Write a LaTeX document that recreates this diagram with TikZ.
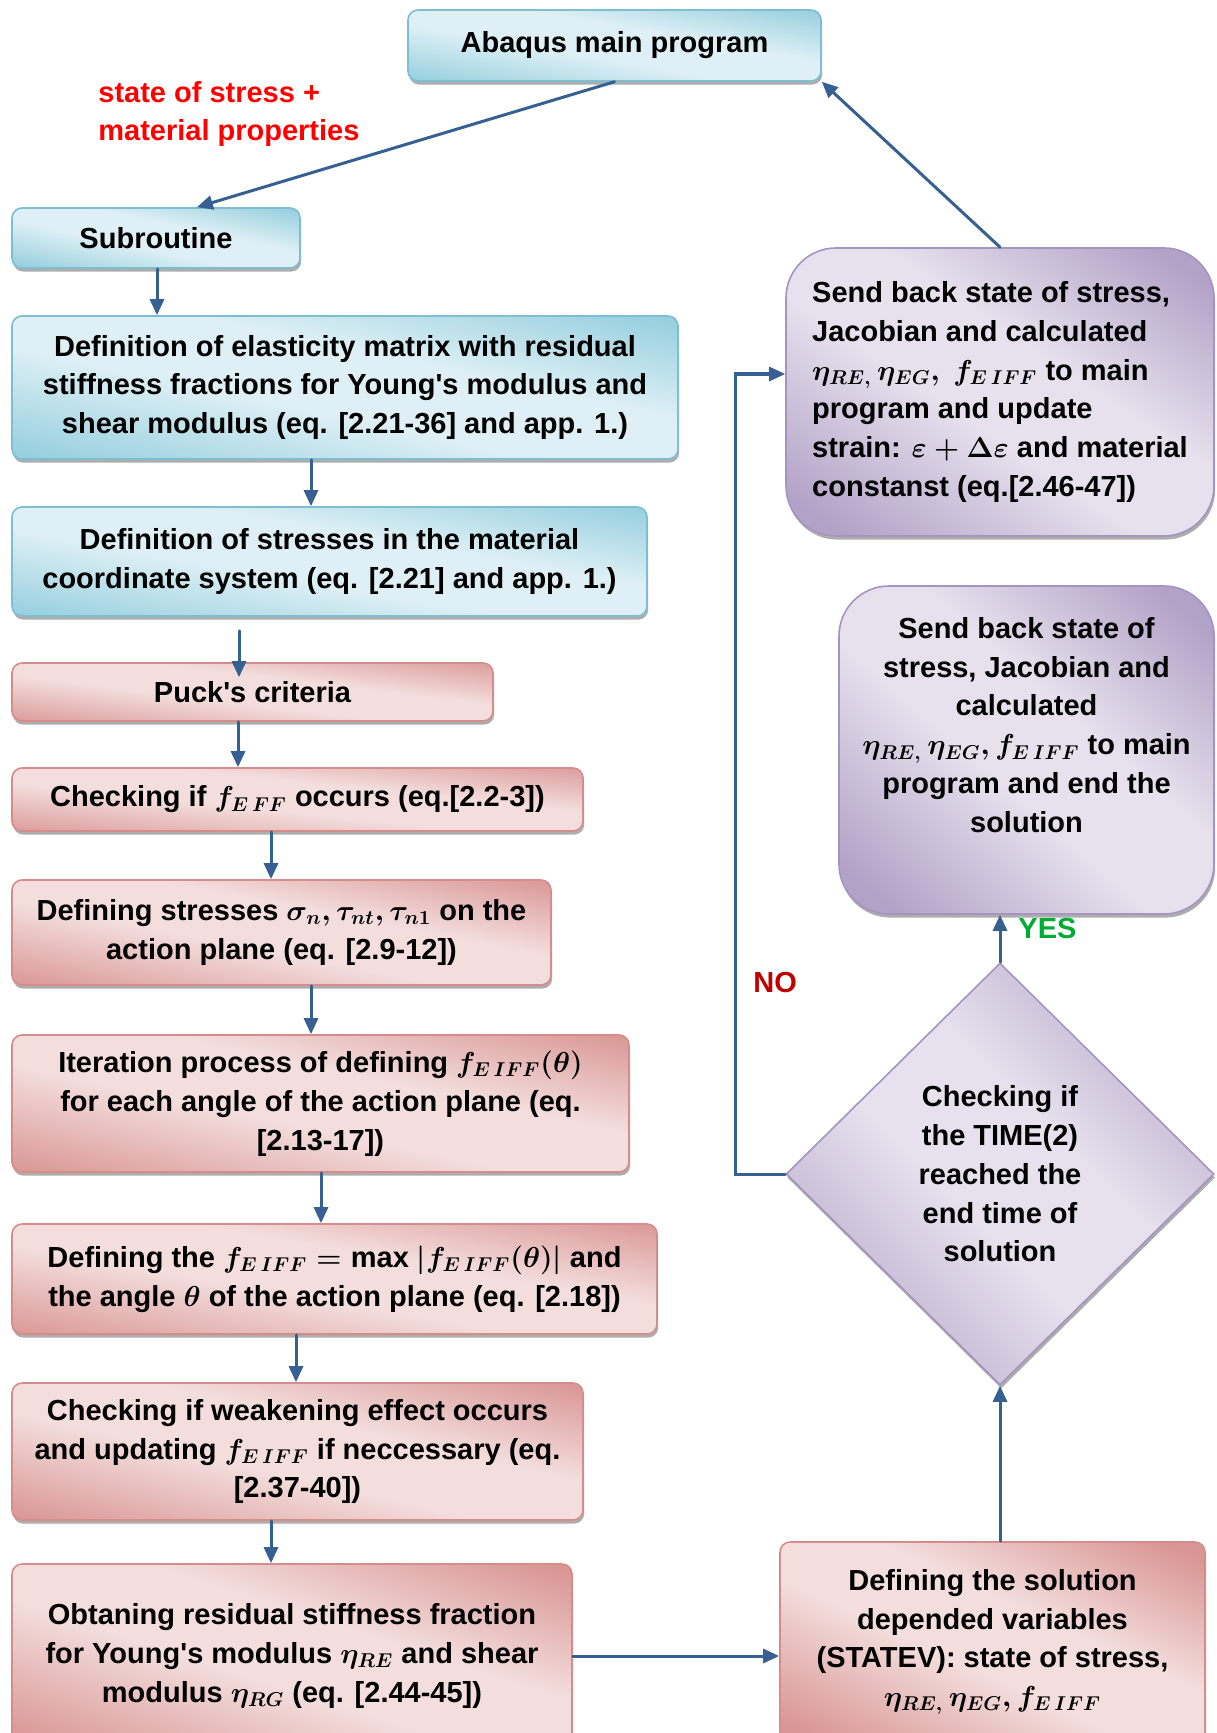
\documentclass[tikz,border=0pt]{standalone}
\usepackage{fontspec}
\setmainfont{Liberation Sans}
\usepackage{amsmath,bm}
\usetikzlibrary{arrows.meta,shapes.geometric,shadows,calc}

\newcommand\flowfont{\fontsize{14.5}{19.4}\selectfont\bfseries\boldmath}
\newcommand\fiff{\bm{f}_{\bm{E\,IFF}}}
\newcommand\etare{\bm{\eta}_{\bm{RE,}}}
\newcommand\etaeg{\bm{\eta}_{\bm{EG}}}

% Colors
\definecolor{aquadark}{RGB}{147,205,221}
\definecolor{aqualight}{RGB}{222,240,245}
\definecolor{aquaedge}{RGB}{125,190,210}
\definecolor{rosedark}{RGB}{217,150,148}
\definecolor{roselight}{RGB}{243,222,221}
\definecolor{roseedge}{RGB}{214,140,138}
\definecolor{lilacdark}{RGB}{179,162,199}
\definecolor{lilaclight}{RGB}{230,225,237}
\definecolor{lilacedge}{RGB}{165,148,192}
\definecolor{flowblue}{RGB}{55,96,146}

% light band across the box, dark corners
\pgfdeclareverticalshading{aquasweep}{100bp}{color(0bp)=(aquadark); color(20bp)=(aquadark); color(44bp)=(aqualight); color(58bp)=(aqualight); color(80bp)=(aquadark); color(100bp)=(aquadark)}
\pgfdeclareverticalshading{rosesweep}{100bp}{color(0bp)=(rosedark); color(20bp)=(rosedark); color(44bp)=(roselight); color(58bp)=(roselight); color(80bp)=(rosedark); color(100bp)=(rosedark)}
\pgfdeclareverticalshading{lilacsweep}{100bp}{color(0bp)=(lilacdark); color(20bp)=(lilacdark); color(44bp)=(lilaclight); color(58bp)=(lilaclight); color(80bp)=(lilacdark); color(100bp)=(lilacdark)}

\begin{document}
\begin{tikzpicture}[x=0.5pt, y=-0.5pt, line cap=round,
		% Styles (the argument tilts the light band from corner to corner)
		box/.style={align=center, inner sep=4pt, font=\flowfont,
			drop shadow={shadow xshift=0.6pt, shadow yshift=-1.8pt, fill=black!40, opacity=.8}},
		blue box/.style={box, rounded corners=5pt, draw=aquaedge, thick,
			shading=aquasweep, shading angle=#1},
		blue box/.default=-11,
		red box/.style={box, rounded corners=5pt, draw=roseedge, thick,
			shading=rosesweep, shading angle=#1},
		red box/.default=-11,
		purple box/.style={box, rounded corners=25pt, draw=lilacedge, thick,
			shading=lilacsweep, shading angle=#1},
		purple box/.default=-38,
		decision/.style={box, diamond, aspect=1, draw=lilacedge, thick,
			shading=lilacsweep, shading angle=-45},
		flow/.style={draw=flowblue, line width=1.5pt, -{Triangle[length=8pt,width=7pt]}},
		note/.style={font=\flowfont, inner sep=0pt}
		]
		
		\colorlet{nocolor}{red!75!black}
		\colorlet{yescolor}{green!60!black!80!cyan}
		
		\useasboundingbox (0,0) rectangle (1216,1733);
		\clip (0,0) rectangle (1216,1733);
		
		% Left column
		\node[blue box=-10, minimum width=206.5pt, minimum height=35.5pt] (main) at (614.5,45.5) {Abaqus main program};
		\node[blue box=-12, minimum width=144pt, minimum height=30pt] (sub) at (156,238) {Subroutine};
		\node[blue box=-12, minimum width=333pt, minimum height=71.5pt] (elast) at (345,387.5)
			{Definition of elasticity matrix with residual\\ stiffness fractions for Young\textquotesingle s modulus and\\ shear modulus (eq. [2.21-36] and app. 1.)};
		\node[blue box=-10, minimum width=317.5pt, minimum height=54.5pt] (stresses) at (329.5,561.5)
			{Definition of stresses in the material\\ coordinate system (eq. [2.21] and app. 1.)};
		\node[red box=-7, minimum width=240.5pt, minimum height=29pt] (puck) at (252.5,692) {Puck\textquotesingle s criteria};
		\node[red box=-6, minimum width=285.5pt, minimum height=31.5pt] (feff) at (297.5,799.5)
			{Checking if $\bm{f}_{\bm{E\,FF}}$ occurs (eq.[2.2-3])};
		\node[red box=-11, minimum width=269.5pt, minimum height=52.5pt] (sigma) at (281.5,932.5)
			{Defining stresses $\bm{\sigma}_{\bm{n}},\bm{\tau}_{\bm{nt}},\bm{\tau}_{\bm{n1}}$ on the\\ action plane (eq. [2.9-12])};
		\node[red box=-12, minimum width=308.5pt, minimum height=68.5pt] (iter) at (320.5,1103.5)
			{Iteration process of defining $\fiff(\bm{\theta})$\\ for each angle of the action plane (eq.\\{}[2.13-17])};
		\node[red box=-10, minimum width=322.5pt, minimum height=55pt] (max) at (334.5,1279)
			{Defining the $\fiff=\mathrm{max}\ |\fiff(\bm{\theta})|$ and\\ the angle $\bm{\theta}$ of the action plane (eq. [2.18])};
		\node[red box=-13, minimum width=285.5pt, minimum height=68.5pt] (weak) at (297.5,1451.5)
			{Checking if weakening effect occurs\\ and updating $\fiff$ if neccessary (eq.\\{}[2.37-40])};
		\node[red box=-18, minimum width=280pt, minimum height=92pt] (obt) at (292,1656)
			{Obtaning residual stiffness fraction\\ for Young\textquotesingle s modulus $\bm{\eta}_{\bm{RE}}$ and shear\\ modulus $\bm{\eta}_{\bm{RG}}$ (eq. [2.44-45])};
		
		% Right column
		\node[red box=-25, minimum width=212.5pt, minimum height=100pt] (solvars) at (992.5,1642)
			{Defining the solution\\ depended variables\\ (STATEV): state of stress,\\ $\etare\,\etaeg,\fiff$};
		\node[decision, minimum width=214pt, minimum height=211pt] (diam) at (1000,1174)
			{Checking if\\ the TIME(2)\\ reached the\\ end time of\\ solution};
		\node[purple box=-41, minimum width=187.5pt, minimum height=164pt] (endb) at (1026.5,750) {};
		\node[note, align=center] (endtext) at (1026.5,725)
			{Send back state of\\ stress, Jacobian and\\ calculated\\ $\etare\,\etaeg,\fiff$ to main\\ program and end the\\ solution};
		\node[purple box=-34, align=left, minimum width=214pt, minimum height=144pt] (upd) at (1000,392)
			{Send back state of stress,\\ Jacobian and calculated\\ $\etare\,\etaeg,\ \fiff$ to main\\ program and update\\ strain: $\bm{\varepsilon}+\bm{\Delta\varepsilon}$ and material\\ constanst (eq.[2.46-47])};
		
		% Labels
		\node[note, text=red, align=left, anchor=west] (inputs) at (98,114) {state of stress +\\ material properties};
		\node[note, text=yescolor, anchor=west] (yes) at (1018,929) {YES};
		\node[note, text=nocolor, anchor=west] (no) at (753,983) {NO};
		
		% Connectors
		\draw[flow] (main.south) -- (sub.37);
		\foreach \a/\b/\x in {sub/elast/157, elast/stresses/311, puck/feff/238, feff/sigma/271,
			sigma/iter/311, iter/max/321, max/weak/296, weak/obt/271}
			\draw[flow] (\a.south -| \x,0) -- (\b.north -| \x,0);
		\draw[flow] ($(stresses.south -| 239,0)+(0,14)$) -- ($(puck.north -| 239,0)+(0,15)$);
		
		\draw[flow] (obt.east) -- (obt.east -| solvars.west);
		\draw[flow] (diam.south |- solvars.north) -- (diam.south);
		\draw[flow] (diam.north) -- (diam.north |- endb.south);
		
		\coordinate (noturn) at (735,374);
		\draw[flow] (diam.west) -| (noturn) -- (noturn -| upd.west);
		\draw[flow] (upd.north) -- (main.south east);
		
	\end{tikzpicture}
\end{document}
